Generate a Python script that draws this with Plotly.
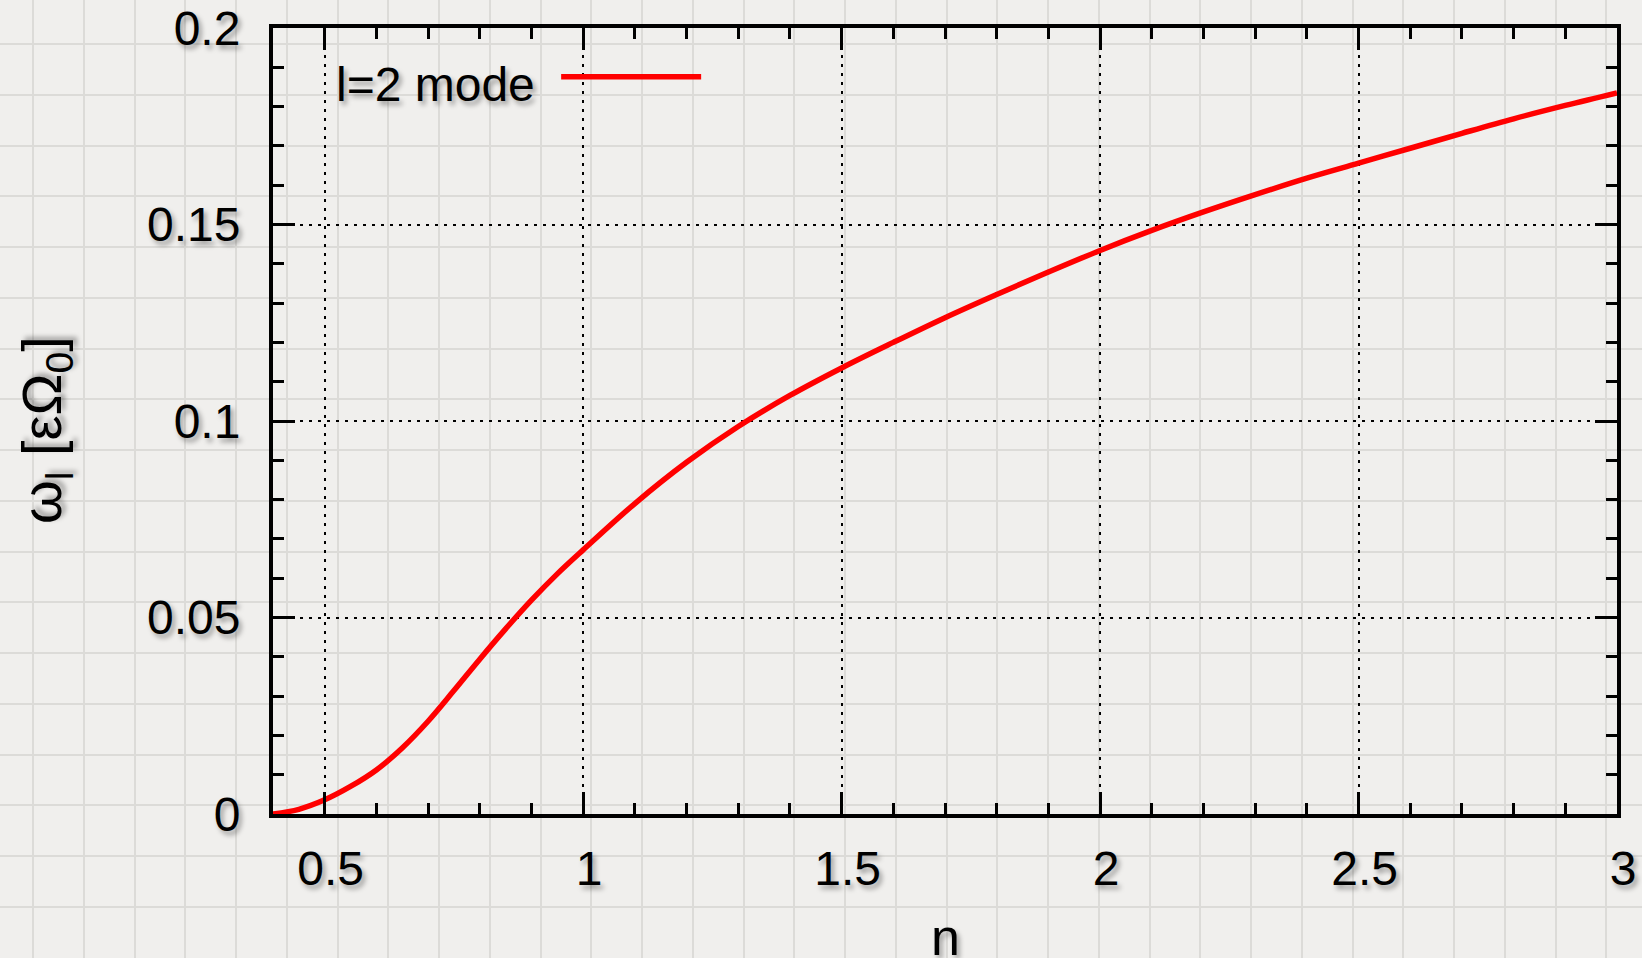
import plotly.graph_objects as go

# ---- data ----
n_values = [0.40, 0.45, 0.50, 0.55, 0.60, 0.65, 0.70, 0.75, 0.80, 0.85, 0.90, 0.95,
            1.00, 1.10, 1.20, 1.30, 1.40, 1.50, 1.60, 1.70, 1.80, 1.90, 2.00,
            2.10, 2.20, 2.30, 2.40, 2.50, 2.60, 2.70, 2.80, 2.90, 3.00]
omega_l2 = [0.0000, 0.0012, 0.0036, 0.0070, 0.0112, 0.0168, 0.0236, 0.0314, 0.0394, 0.0471, 0.0544, 0.0611,
            0.0672, 0.0790, 0.0895, 0.0986, 0.1065, 0.1135, 0.1200, 0.1263, 0.1322, 0.1379, 0.1434,
            0.1485, 0.1532, 0.1576, 0.1618, 0.1656, 0.1694, 0.1732, 0.1769, 0.1803, 0.1835]
x_ticks = [0.5, 1, 1.5, 2, 2.5, 3]
x_tick_labels = ["0.5", "1", "1.5", "2", "2.5", "3"]
y_ticks = [0, 0.05, 0.1, 0.15, 0.2]
y_tick_labels = ["0", "0.05", "0.1", "0.15", "0.2"]
series_name = "l=2 mode"
x_title = "n"
y_title = "ω<sub>l</sub> [εΩ<sub>0</sub>]"

W, H = 1642, 958
L, R, T, B = 273, 1617, 28, 814  # plot-area edges in px

FONT = "Liberation Sans, Arial, Helvetica, sans-serif"
SHADOW = "3px 4px 5px rgba(0,0,0,0.35)"
FS = 48

fig = go.Figure()

# background "paper" grid on a full-figure axis pair (drawn first, underneath)
fig.add_trace(go.Scatter(x=[None], y=[None], xaxis="x", yaxis="y",
                         showlegend=False, hoverinfo="skip"))

# data curve on the main axes
fig.add_trace(go.Scatter(
    x=n_values, y=omega_l2, xaxis="x2", yaxis="y2",
    mode="lines", line=dict(color="#ff0000", width=5.5, shape="spline", smoothing=1.0),
    name="", showlegend=True, hoverinfo="x+y"))

axis_common = dict(
    ticks="inside", ticklen=22, tickwidth=3, tickcolor="black",
    showline=True, linewidth=4, linecolor="black", mirror="ticks",
    showgrid=True, gridcolor="black", gridwidth=1.5, griddash="3px,6px",
    zeroline=False, automargin=False,
    tickfont=dict(family=FONT, size=FS, color="black", shadow=SHADOW),
)

fig.update_layout(
    width=W, height=H,
    margin=dict(l=0, r=0, t=0, b=0, autoexpand=False),
    paper_bgcolor="#f0efed",
    plot_bgcolor="rgba(0,0,0,0)",
    font=dict(family=FONT, size=FS, color="black", shadow=SHADOW),
    xaxis=dict(domain=[0, 1], range=[0, W], tick0=33, dtick=50.75,
               showgrid=True, gridcolor="#dcdbd8", gridwidth=2,
               showticklabels=False, ticks="", zeroline=False, showline=False,
               automargin=False, fixedrange=True),
    yaxis=dict(domain=[0, 1], range=[H, 0], tick0=44, dtick=50.75,
               showgrid=True, gridcolor="#dcdbd8", gridwidth=2,
               showticklabels=False, ticks="", zeroline=False, showline=False,
               automargin=False, fixedrange=True),
    xaxis2=dict(domain=[L / W, R / W], anchor="y2", range=[0.4, 3],
                tickmode="array", tickvals=x_ticks, ticktext=x_tick_labels,
                minor=dict(ticks="inside", ticklen=11, tickwidth=3, dtick=0.1,
                           tick0=0.4, tickcolor="black", showgrid=False),
                ticklabelstandoff=9, ticklabelshift=6, **axis_common),
    yaxis2=dict(domain=[1 - B / H, 1 - T / H], anchor="x2", range=[0, 0.2],
                tickmode="array", tickvals=y_ticks, ticktext=y_tick_labels,
                minor=dict(ticks="inside", ticklen=11, tickwidth=3, dtick=0.01,
                           tick0=0, tickcolor="black", showgrid=False),
                ticklabelstandoff=19, **axis_common),
    legend=dict(x=334 / W, y=1 - 77 / H, xanchor="left", yanchor="middle",
                bgcolor="rgba(0,0,0,0)", borderwidth=0, itemwidth=140,
                title=dict(text=series_name + "\u00a0", side="left",
                           font=dict(family=FONT, size=FS, color="black", shadow=SHADOW)),
                font=dict(family=FONT, size=FS, color="black")),
    annotations=[
        dict(text=x_title, xref="paper", yref="paper", x=945 / W, y=1 - 937 / H,
             xanchor="center", yanchor="middle", showarrow=False,
             font=dict(family=FONT, size=52, color="black", shadow=SHADOW)),
        dict(text=y_title, xref="paper", yref="paper", x=46 / W, y=1 - 430 / H,
             xanchor="center", yanchor="middle", showarrow=False, textangle=-90,
             font=dict(family=FONT, size=56, color="black", shadow=SHADOW)),
    ],
    showlegend=True,
)

fig.write_html("out.html")
